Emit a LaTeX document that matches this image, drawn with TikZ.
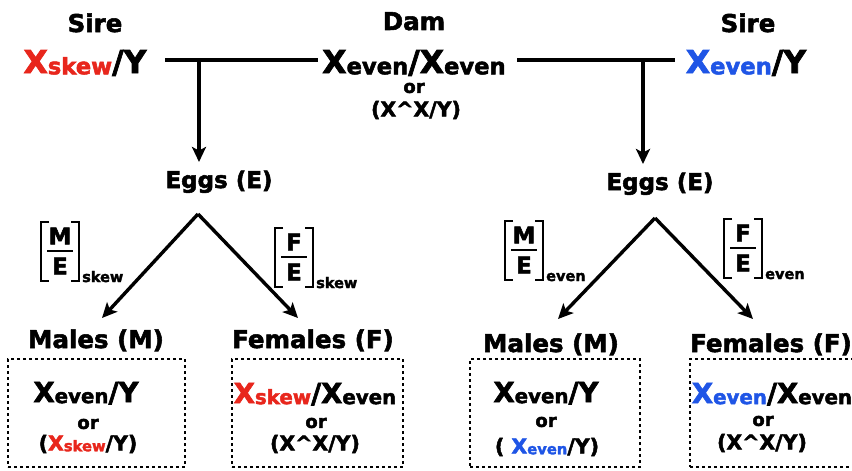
\documentclass[tikz,border=0pt]{standalone}
\usepackage{fontspec}
\setmainfont{DejaVu Sans}[BoldFeatures={FakeBold=2.2}]
\usepackage{graphicx}
\usetikzlibrary{arrows.meta}
\definecolor{skred}{HTML}{E8261C}
\definecolor{evblue}{HTML}{1F55E6}
\newcommand\sbs[1]{\raisebox{-0.04em}{\scalebox{0.72}{#1}}}
\newcommand\fsz[1]{\fontsize{#1}{#1}\selectfont}
\newcommand\ratiolabel[5]{%
  \node[ratiol] (#1n) at (#2,#3-15) {#4};
  \node[ratiol] (#1d) at (#2,#3+15) {E};
  \draw[ratioline] (#2-13,#3) -- (#2+13,#3);
  \draw[brk] (#2-11,#3-29) -- (#2-19,#3-29) -- (#2-19,#3+30) -- (#2-11,#3+30);
  \draw[brk] (#2+11,#3-29) -- (#2+19,#3-29) -- (#2+19,#3+30) -- (#2+11,#3+30);
  \node[ratsub, anchor=base west] (#1s) at (#2+22,#3+31) {#5};
}
\begin{document}
\begin{tikzpicture}[x=1pt,y=-1pt,
  every node/.style={font=\bfseries, inner sep=0pt},
  title/.style={font=\bfseries\fsz{24.5}, anchor=base},
  eggs/.style={font=\bfseries\fsz{23}, anchor=base},
  geno/.style={font=\bfseries\fsz{31.5}, anchor=base},
  smallor/.style={font=\bfseries\fsz{18}},
  alt/.style={font=\bfseries\fsz{20.5}},
  sex/.style={font=\bfseries\fsz{24.5}, anchor=base},
  boxgeno/.style={font=\bfseries\fsz{27.5}, anchor=base},
  ratiol/.style={font=\bfseries\fsz{23}},
  ratsub/.style={font=\bfseries\fsz{14.5}},
  ratioline/.style={line width=2.6pt},
  brk/.style={line width=2.3pt},
  conn/.style={line width=3.6pt},
  arr/.style={line width=3.4pt,-{Stealth[length=15pt,width=14pt,inset=3.5pt]}},
  dotbox/.style={draw, line width=2.6pt, dash pattern=on 2.6pt off 3.4pt}
]
\useasboundingbox[fill=white] (0,0) rectangle (852,471);
% top row
\node[title] (sireL) at (95,32) {Sire};
\node[geno] (gL) at (85,73) {\textcolor{skred}{X\sbs{skew}}/Y};
\node[title] (dam) at (414,30) {Dam};
\node[geno] (gD) at (414,73) {X\sbs{even}/X\sbs{even}};
\node[smallor] (orD) at (414,88) {or};
\node[alt] (xxD) at (416,110) {(X\textasciicircum X/Y)};
\node[title] (sireR) at (748,32) {Sire};
\node[geno] (gR) at (746,73) {\textcolor{evblue}{X\sbs{even}}/Y};
\coordinate (hL1) at (165,60);
\coordinate (hL2) at (318,60);
\coordinate (hR1) at (517,60);
\coordinate (hR2) at (675,60);
\coordinate (jL) at (199,60);
\coordinate (jR) at (643,60);
\coordinate (tL) at (199,162);
\coordinate (tR) at (643,164);
\draw[conn] (hL1) -- (hL2);
\draw[conn] (hR1) -- (hR2);
% eggs
\node[eggs] (eggL) at (219,188) {Eggs (E)};
\node[eggs] (eggR) at (660,190) {Eggs (E)};
\draw[arr] (jL) -- (tL);
\draw[arr] (jR) -- (tR);
\coordinate (apL) at (198,214);
\coordinate (apR) at (655,218);
\coordinate (tLM) at (102,318);
\coordinate (tLF) at (298,318);
\coordinate (tRM) at (558,319);
\coordinate (tRF) at (753,319);
\draw[arr] (apL) -- (tLM);
\draw[arr] (apL) -- (tLF);
\draw[arr] (apR) -- (tRM);
\draw[arr] (apR) -- (tRF);
% ratios
\ratiolabel{rLM}{60}{251}{M}{skew}
\ratiolabel{rLF}{294}{257}{F}{skew}
\ratiolabel{rRM}{524}{250}{M}{even}
\ratiolabel{rRF}{743}{248}{F}{even}
% sexes
\node[sex] (mL) at (96,348) {Males (M)};
\node[sex] (fL) at (313,348) {Females (F)};
\node[sex] (mR) at (551,352) {Males (M)};
\node[sex] (fR) at (771,352) {Females (F)};
% boxes
\node[dotbox, minimum width=177pt, minimum height=108pt] (bLM) at (96.5,413) {};
\node[dotbox, minimum width=171pt, minimum height=108pt] (bLF) at (317.5,413) {};
\node[dotbox, minimum width=170pt, minimum height=108pt] (bRM) at (555,413) {};
\node[dotbox, minimum width=172pt, minimum height=108pt] (bRF) at (776,413) {};
% box contents
\node[boxgeno] (c1) at (86,402) {X\sbs{even}/Y};
\node[smallor] (o1) at (88,424) {or};
\node[alt] (a1) at (88,444) {(\textcolor{skred}{X\sbs{skew}}/Y)};
\node[boxgeno] (c2) at (315,403) {\textcolor{skred}{X\sbs{skew}}/X\sbs{even}};
\node[smallor] (o2) at (316,423) {or};
\node[alt] (a2) at (315,444) {(X\textasciicircum X/Y)};
\node[boxgeno] (c3) at (546,402) {X\sbs{even}/Y};
\node[smallor] (o3) at (546,422) {or};
\node[alt] (a3) at (547,447) {( \textcolor{evblue}{X\sbs{even}}/Y)};
\node[boxgeno] (c4) at (772,403) {\textcolor{evblue}{X\sbs{even}}/X\sbs{even}};
\node[smallor] (o4) at (763,421) {or};
\node[alt] (a4) at (762,443) {(X\textasciicircum X/Y)};
\end{tikzpicture}
\end{document}
